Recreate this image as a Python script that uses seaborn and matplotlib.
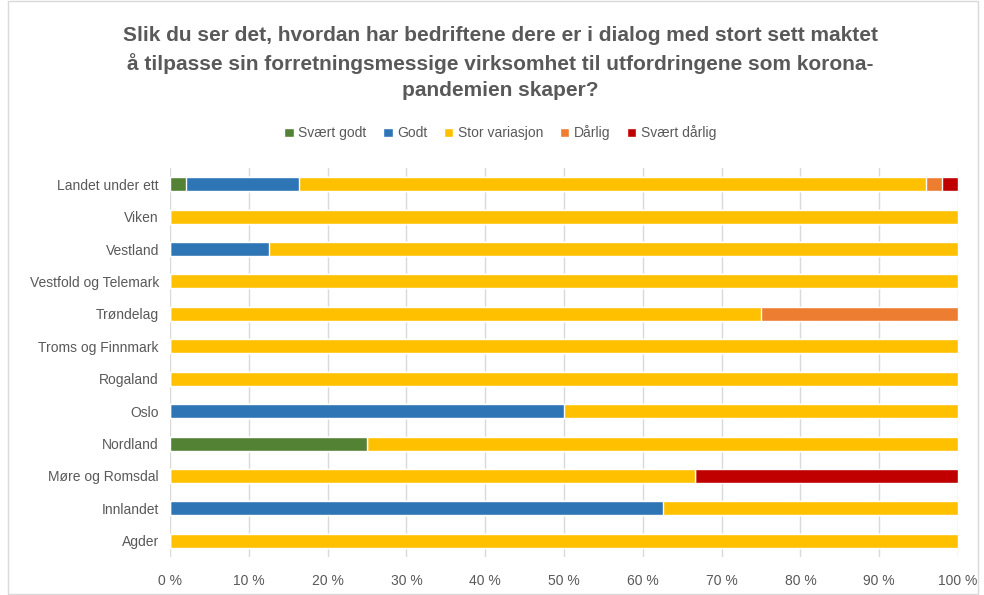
import numpy as np
import pandas as pd
import seaborn as sns
import matplotlib.pyplot as plt
from matplotlib.patches import Rectangle

regions = ['Landet under ett', 'Viken', 'Vestland', 'Vestfold og Telemark', 'Trøndelag',
           'Troms og Finnmark', 'Rogaland', 'Oslo', 'Nordland', 'Møre og Romsdal',
           'Innlandet', 'Agder']
series = ['Svært godt', 'Godt', 'Stor variasjon', 'Dårlig', 'Svært dårlig']
colors = ['#548235', '#2E75B6', '#FFC000', '#ED7D31', '#C00000']

svaert_godt = [2.04, 0, 0, 0, 0, 0, 0, 0, 25, 0, 0, 0]
godt = [14.29, 0, 12.5, 0, 0, 0, 0, 50, 0, 0, 62.5, 0]
stor_variasjon = [79.59, 100, 87.5, 100, 75, 100, 100, 50, 75, 66.67, 37.5, 100]
darlig = [2.04, 0, 0, 0, 25, 0, 0, 0, 0, 0, 0, 0]
svaert_darlig = [2.04, 0, 0, 0, 0, 0, 0, 0, 0, 33.33, 0, 0]

title = ('Slik du ser det, hvordan har bedriftene dere er i dialog med stort sett maktet\n'
         'å tilpasse sin forretningsmessige virksomhet til utfordringene som korona-\n'
         'pandemien skaper?')

df = pd.DataFrame({'Region': regions, 'Svært godt': svaert_godt, 'Godt': godt,
                   'Stor variasjon': stor_variasjon, 'Dårlig': darlig,
                   'Svært dårlig': svaert_darlig})
cum = df[series].cumsum(axis=1)

sns.set_style('white')
plt.rcParams['font.family'] = ['Liberation Sans', 'DejaVu Sans']
grey = '#595959'

fig = plt.figure(figsize=(9.84, 5.95), dpi=100)
ax = fig.add_axes([170 / 984, 1 - 557 / 595, 788 / 984, (557 - 168) / 595])

# stacked bars: draw cumulative totals from the right-most segment back
handles = {}
for name, col in reversed(list(zip(series, colors))):
    sns.barplot(x=cum[name], y=df['Region'], color=col, width=0.43, saturation=1,
                ax=ax, label=name, zorder=3)

ax.set_xlim(0, 100)
ax.set_xticks(np.arange(0, 101, 10))
ax.set_xticklabels([f'{v} %' for v in range(0, 101, 10)])
ax.xaxis.grid(True, color='#D9D9D9', linewidth=1, zorder=0)
ax.set_axisbelow(True)
ax.set_xlabel('')
ax.set_ylabel('')
for s in ax.spines.values():
    s.set_visible(False)
ax.tick_params(axis='both', length=0, labelsize=10, colors=grey, pad=8)
ax.tick_params(axis='x', pad=12)

h, l = ax.get_legend_handles_labels()
order = [l.index(s) for s in series]
fig.legend([h[i] for i in order], series, loc='center', bbox_to_anchor=(500 / 984, 1 - 133 / 595),
           ncol=5, frameon=False, fontsize=10, labelcolor=grey, handlelength=0.7,
           handleheight=0.7, handletextpad=0.3, columnspacing=1.2)
ax.get_legend().remove() if ax.get_legend() else None

fig.text(500 / 984, 1 - 63 / 595, title, ha='center', va='center', fontsize=15,
         fontweight='bold', color=grey, linespacing=1.45)

fig.patches.append(Rectangle((8 / 984, 0.002), 970 / 984, 0.996, transform=fig.transFigure,
                             fill=False, edgecolor='#D9D9D9', linewidth=1))

fig.savefig('out.png', dpi=100)
